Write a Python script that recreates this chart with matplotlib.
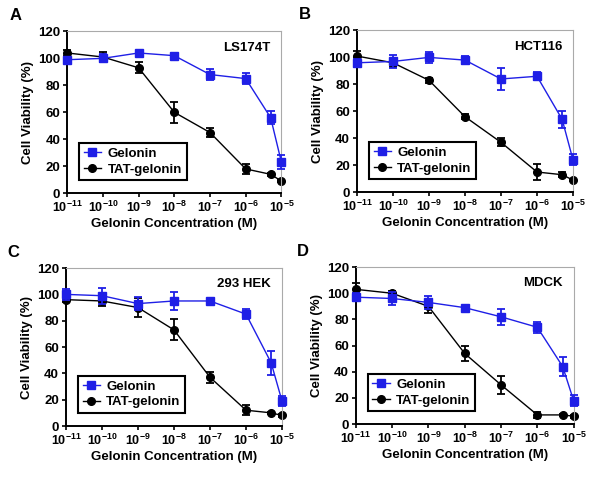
import matplotlib.pyplot as plt
from matplotlib.lines import Line2D
import numpy as np

plt.rcParams['font.family'] = ['Liberation Sans', 'DejaVu Sans']
plt.rcParams['font.weight'] = 'bold'
plt.rcParams['mathtext.fontset'] = 'custom'
plt.rcParams['mathtext.rm'] = 'Liberation Sans:bold'
plt.rcParams['mathtext.bf'] = 'Liberation Sans:bold'
plt.rcParams['mathtext.default'] = 'bf'

conc = [1e-11, 1e-10, 1e-9, 1e-8, 1e-7, 1e-6, 5e-6, 1e-5]
xtick_exp = [-11, -10, -9, -8, -7, -6, -5]

letters = ['A', 'B', 'C', 'D']
cells = ['LS174T', 'HCT116', '293 HEK', 'MDCK']

gel_A = [99, 100, 104, 102, 88, 85, 56, 23]
gel_A_err = [2, 3, 1.5, 1.5, 4, 4, 5, 5]
tat_A = [104, 101, 93, 60, 45, 18, 14, 9]
tat_A_err = [2, 4, 4, 8, 3, 4, 1, 1]

gel_B = [96, 97, 100, 98, 84, 86, 54, 24]
gel_B_err = [3, 5, 4, 3, 8, 3, 6, 4]
tat_B = [101, 96, 83, 56, 37, 15, 13, 9]
tat_B_err = [4, 3, 2, 2, 3, 6, 2, 1]

gel_C = [100, 99, 93, 95, 95, 85, 48, 19]
gel_C_err = [4, 6, 5, 7, 1, 4, 9, 4]
tat_C = [96, 95, 90, 73, 37, 12, 10, 8]
tat_C_err = [2, 4, 7, 8, 4, 4, 1, 1]

gel_D = [97, 96, 93, 89, 82, 74, 44, 18]
gel_D_err = [3, 5, 5, 1, 6, 4, 7, 4]
tat_D = [103, 100, 90, 54, 30, 7, 7, 6]
tat_D_err = [5, 2, 5, 6, 7, 2, 1, 1]

gel = [gel_A, gel_B, gel_C, gel_D]
gel_err = [gel_A_err, gel_B_err, gel_C_err, gel_D_err]
tat = [tat_A, tat_B, tat_C, tat_D]
tat_err = [tat_A_err, tat_B_err, tat_C_err, tat_D_err]

blue = '#1f1fe6'

fig = plt.figure(figsize=(6, 4.83), dpi=100)
rects = [[0.112, 0.600, 0.357, 0.335],
         [0.595, 0.602, 0.360, 0.335],
         [0.110, 0.118, 0.360, 0.327],
         [0.593, 0.122, 0.363, 0.325]]

for i in range(4):
    ax = fig.add_axes(rects[i])
    for y, e, c, m, z in [(gel[i], gel_err[i], blue, 's', 3), (tat[i], tat_err[i], 'black', 'o', 2)]:
        _, caps, bars = ax.errorbar(conc, y, yerr=e, color=c, marker=m, ms=5.5,
                                    lw=1, capsize=3, elinewidth=1.3, capthick=1.3, zorder=z)
        for art in list(caps) + list(bars) + ax.lines:
            art.set_clip_on(False)
    ax.set_xscale('log')
    ax.set_xlim(1e-11, 1e-5)
    ax.set_ylim(0, 120)
    ax.set_yticks(np.arange(0, 121, 20))
    ax.set_xticks([10.0 ** e for e in xtick_exp])
    ax.set_xticklabels(['$10^{%d}$' % e for e in xtick_exp])
    ax.minorticks_off()
    ax.tick_params(axis='y', labelsize=9.5, width=1.2, length=3, pad=2)
    ax.tick_params(axis='x', labelsize=9, width=1.2, length=3, pad=2)
    for s in ['left', 'bottom']:
        ax.spines[s].set_linewidth(1.4)
    for s in ['top', 'right']:
        ax.spines[s].set_color('#aaaaaa')
        ax.spines[s].set_linewidth(0.8)
    ax.set_ylabel('Cell Viability (%)', fontsize=9.5, fontweight='bold', labelpad=3)
    ax.set_xlabel('Gelonin Concentration (M)', fontsize=9.5, fontweight='bold', labelpad=2)
    ax.text(0.95, 0.9, cells[i], transform=ax.transAxes, ha='right', va='center',
            fontsize=9.5, fontweight='bold')
    ax.text(-0.27, 1.05, letters[i], transform=ax.transAxes, ha='left', va='bottom',
            fontsize=12, fontweight='bold')
    handles = [Line2D([], [], color=blue, marker='s', ms=5.5, lw=1),
               Line2D([], [], color='black', marker='o', ms=5.5, lw=1)]
    leg = ax.legend(handles, ['Gelonin', 'TAT-gelonin'], loc='lower left',
                    bbox_to_anchor=(0.025, 0.04), fontsize=9.5,
                    fancybox=False, framealpha=1, handlelength=1.3,
                    handletextpad=0.5, borderpad=0.35, labelspacing=0.25)
    leg.get_frame().set_edgecolor('black')
    leg.get_frame().set_linewidth(1.5)

fig.savefig('out.png', dpi=100)
